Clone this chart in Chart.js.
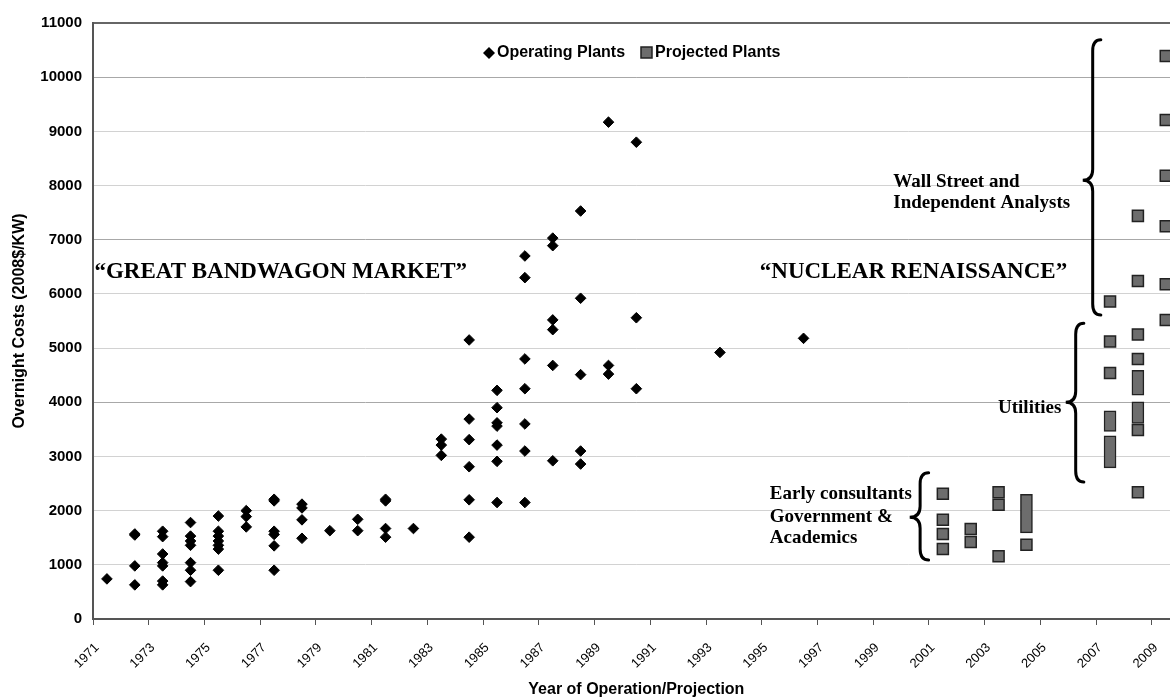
<!DOCTYPE html>
<html>
<head>
<meta charset="utf-8">
<title>Overnight Costs</title>
<script src="https://cdn.jsdelivr.net/npm/chart.js@4/dist/chart.umd.min.js"></script>
<style>
  html, body { margin: 0; padding: 0; overflow: hidden; background: #fff; }
  #wrap { width: 1189px; height: 700px; }
  canvas { display: block; }
</style>
</head>
<body>
<!-- the plot runs past the right edge of the window, as in the original -->
<div id="wrap"><canvas id="costChart" width="1189" height="700" style="width:1189px;height:700px"></canvas></div>
<script>
// years on the axis (one tick every two years)
const xTickLabels = [1971, 1973, 1975, 1977, 1979, 1981, 1983, 1985, 1987, 1989,
                     1991, 1993, 1995, 1997, 1999, 2001, 2003, 2005, 2007, 2009];
const yTickLabels = [0, 1000, 2000, 3000, 4000, 5000, 6000, 7000, 8000, 9000, 10000, 11000];

// operating plants, costs per year of operation (2008$/KW)
const operatingYears = [1971, 1972, 1973, 1974, 1975, 1976, 1977, 1978, 1979, 1980, 1981,
                        1982, 1983, 1984, 1985, 1986, 1987, 1988, 1989, 1990, 1993, 1996];
const operatingCosts = [
    [740],
    [1570, 1550, 980, 630],
    [1620, 1520, 1200, 1040, 980, 700, 630],
    [1780, 1530, 1440, 1360, 1040, 900, 690],
    [1900, 1620, 1530, 1440, 1360, 1290, 900],
    [2000, 1890, 1700],
    [2210, 2180, 1620, 1560, 1350, 900],
    [2120, 2050, 1830, 1490],
    [1630],
    [1840, 1630],
    [2210, 2180, 1670, 1510],
    [1670],
    [3320, 3210, 3020],
    [5150, 3690, 3310, 2810, 2200, 1510],
    [4220, 3900, 3620, 3560, 3210, 2910, 2150],
    [6700, 6300, 4800, 4250, 3600, 3100, 2150],
    [7030, 6890, 5520, 5340, 4680, 2920],
    [7530, 5920, 4510, 3100, 2860],
    [9170, 4680, 4520],
    [8800, 5560, 4250],
    [4920],
    [5180]
];

// projected plants, single estimates
const projectedYears = [2001, 2002, 2003, 2004, 2007, 2008, 2009];
const projectedCosts = [
    [2310, 1830, 1570, 1290],
    [1660, 1420],
    [2340, 2110, 1160],
    [1370],
    [5860, 5120, 4540],
    [7440, 6240, 5250, 4800, 3490, 2340],
    [10390, 9210, 8180, 7250, 6180, 5520]
];

// projected plants given as a range
const rangeYears = [2004, 2007, 2007, 2008, 2008];
const rangeLow   = [1590, 3460, 2790, 4130, 3610];
const rangeHigh  = [2300, 3840, 3380, 4590, 4010];

// points sit in the middle of their year
const operatingPoints = [];
operatingYears.forEach((yr, i) => {
    operatingCosts[i].forEach(c => operatingPoints.push({ x: yr + 0.5, y: c }));
});
const projectedPoints = [];
projectedYears.forEach((yr, i) => {
    projectedCosts[i].forEach(c => projectedPoints.push({ x: yr + 0.5, y: c }));
});
const rangeBars = rangeYears.map((yr, i) => ({ x: yr + 0.5, y: [rangeLow[i], rangeHigh[i]] }));

const SERIF = '"Liberation Serif", "Times New Roman", serif';
const SANS = '"Liberation Sans", Arial, sans-serif';
const squareFill = '#6d6d6d';
const squareLine = '#222';

// text notes in data units (year, cost)
const notes = [
    { text: '\u201cGREAT BANDWAGON MARKET\u201d', year: 1971.05, value: 6290, size: 23 },
    { text: '\u201cNUCLEAR RENAISSANCE\u201d', year: 1994.93, value: 6290, size: 23 },
    { text: 'Wall Street and', year: 1999.72, value: 7970, size: 19 },
    { text: 'Independent Analysts', year: 1999.72, value: 7580, size: 19 },
    { text: 'Utilities', year: 2003.48, value: 3800, size: 19 },
    { text: 'Early consultants', year: 1995.29, value: 2220, size: 19 },
    { text: 'Government &', year: 1995.29, value: 1790, size: 19 },
    { text: 'Academics', year: 1995.29, value: 1400, size: 19 }
];
// curly braces: tip year, end year, top / tip / bottom cost
const braces = [
    { tip: 2006.52, end: 2007.17, top: 10690, mid: 8100, bottom: 5610 },
    { tip: 2005.91, end: 2006.56, top: 5460, mid: 4000, bottom: 2530 },
    { tip: 2000.31, end: 2000.99, top: 2700, mid: 1880, bottom: 1090 }
];

const notesPlugin = {
    id: 'notes',
    afterDraw(chart) {
        const { ctx } = chart;
        const xs = chart.scales.x, ys = chart.scales.y;
        ctx.save();
        ctx.fillStyle = '#000';
        ctx.textBaseline = 'alphabetic';
        notes.forEach(n => {
            ctx.font = 'bold ' + n.size + 'px ' + SERIF;
            ctx.fillText(n.text, xs.getPixelForValue(n.year), ys.getPixelForValue(n.value));
        });

        // braces
        ctx.strokeStyle = '#000';
        ctx.lineWidth = 3;
        ctx.lineCap = 'round';
        braces.forEach(b => {
            const xt = xs.getPixelForValue(b.tip);
            const xe = xs.getPixelForValue(b.end);
            const xsp = xt + (xe - xt) * 0.55;
            const yT = ys.getPixelForValue(b.top);
            const yM = ys.getPixelForValue(b.mid);
            const yB = ys.getPixelForValue(b.bottom);
            const r = 11;
            ctx.beginPath();
            ctx.moveTo(xe, yT);
            ctx.quadraticCurveTo(xsp, yT, xsp, yT + r);
            ctx.lineTo(xsp, yM - r);
            ctx.quadraticCurveTo(xsp, yM, xt, yM);
            ctx.quadraticCurveTo(xsp, yM, xsp, yM + r);
            ctx.lineTo(xsp, yB - r);
            ctx.quadraticCurveTo(xsp, yB, xe, yB);
            ctx.stroke();
        });

        // legend inside the plot
        ctx.font = 'bold 16px ' + SANS;
        ctx.textBaseline = 'middle';
        const ly = 53;
        ctx.fillStyle = '#000';
        ctx.beginPath();
        ctx.moveTo(483, ly); ctx.lineTo(489, ly - 6); ctx.lineTo(495, ly); ctx.lineTo(489, ly + 6);
        ctx.closePath();
        ctx.fill();
        ctx.fillText('Operating Plants', 497, ly);
        ctx.fillStyle = squareFill;
        ctx.strokeStyle = squareLine;
        ctx.lineWidth = 1.5;
        ctx.fillRect(641, ly - 6, 11, 11);
        ctx.strokeRect(641, ly - 6, 11, 11);
        ctx.fillStyle = '#000';
        ctx.fillText('Projected Plants', 655, ly);
        ctx.restore();
    }
};

Chart.defaults.font.family = SANS;
Chart.defaults.color = '#000';

new Chart(document.getElementById('costChart'), {
    type: 'scatter',
    data: {
        datasets: [
            {
                label: 'Operating Plants',
                data: operatingPoints,
                pointStyle: 'rectRot',
                pointRadius: 5.3,
                backgroundColor: '#000',
                borderColor: '#000',
                borderWidth: 1,
                order: 1
            },
            {
                label: 'Projected Plants',
                data: projectedPoints,
                pointStyle: 'rect',
                pointRadius: 7.8,
                backgroundColor: squareFill,
                borderColor: squareLine,
                borderWidth: 1.5,
                order: 2
            },
            {
                type: 'bar',
                label: 'Projected range',
                data: rangeBars,
                barThickness: 12,
                backgroundColor: squareFill,
                borderColor: squareLine,
                borderWidth: 1.5,
                borderSkipped: false,
                order: 3
            }
        ]
    },
    options: {
        responsive: false,
        animation: false,
        devicePixelRatio: 1,
        layout: { padding: { top: 23, right: 0, left: 0, bottom: 0 } },
        plugins: { legend: { display: false }, tooltip: { enabled: false } },
        scales: {
            x: {
                type: 'linear',
                min: 1971,
                max: 2010,
                offset: false,
                afterBuildTicks: s => { s.ticks = xTickLabels.map(v => ({ value: v })); },
                afterFit: s => { s.height = 81; },
                ticks: {
                    autoSkip: false,
                    minRotation: 45,
                    maxRotation: 45,
                    padding: 15,
                    labelOffset: 4,
                    color: '#000',
                    font: { size: 13 },
                    callback: v => String(v)
                },
                grid: { offset: false, drawOnChartArea: false, drawTicks: true, tickLength: 6, color: '#555' },
                border: { color: '#555', width: 2 },
                title: {
                    display: true,
                    text: 'Year of Operation/Projection',
                    font: { size: 16, weight: 'bold' },
                    padding: { top: 0, bottom: 1 }
                }
            },
            y: {
                min: 0,
                max: 11000,
                afterBuildTicks: s => { s.ticks = yTickLabels.map(v => ({ value: v })); },
                afterFit: s => { s.width = 93; },
                ticks: {
                    padding: 11,
                    font: { size: 15, weight: 'bold' },
                    callback: v => String(v)
                },
                grid: {
                    drawTicks: false,
                    color: c => c.tick.value === 11000 ? '#666' :
                        ([4000, 7000, 10000].includes(c.tick.value) ? '#a8a8a8' : '#d2d2d2'),
                    lineWidth: c => c.tick.value === 11000 ? 2 : 1
                },
                border: { color: '#555', width: 2 },
                title: {
                    display: true,
                    text: 'Overnight Costs (2008$/KW)',
                    font: { size: 16, weight: 'bold' },
                    padding: { top: 10, bottom: 0 }
                }
            }
        }
    },
    plugins: [notesPlugin]
});
</script>
</body>
</html>
